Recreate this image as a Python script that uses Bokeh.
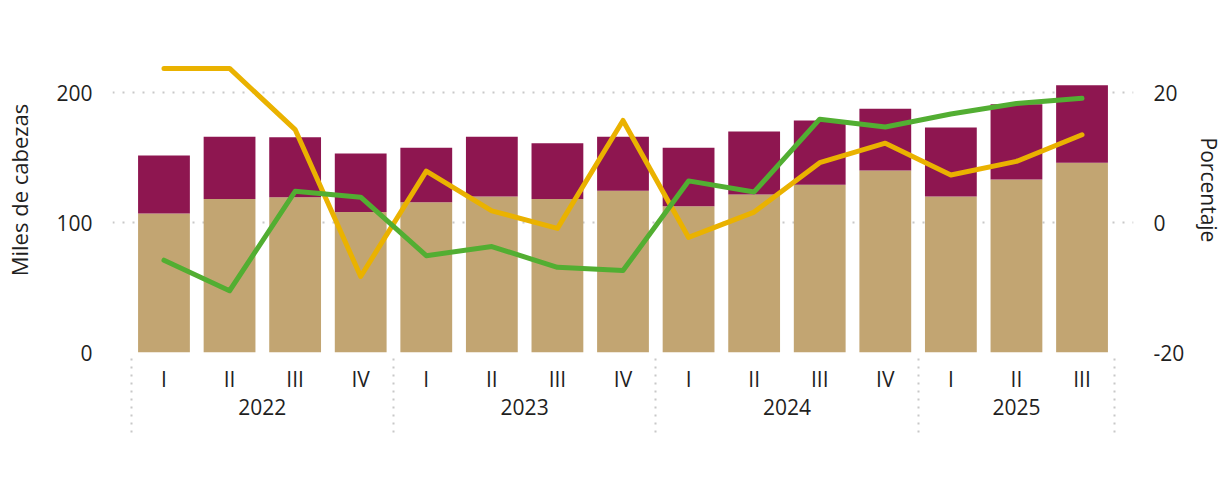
from bokeh.plotting import figure
from bokeh.models import (Range1d, LinearAxis, Legend, LegendItem,
                          ColumnDataSource, FixedTicker)
from bokeh.embed import file_html
from bokeh.resources import INLINE

years = ["2022", "2023", "2024", "2025"]
quarters = ["I", "II", "III", "IV", "I", "II", "III", "IV",
            "I", "II", "III", "IV", "I", "II", "III"]
quarters_per_year = [4, 4, 4, 3]
porcino = [107, 118, 119.5, 108, 115.5, 120, 118, 124.5,
           112.5, 121.5, 129, 140, 120, 133, 146]
vacuno = [44.5, 48, 46, 45, 42, 46, 43, 41.5,
          45, 48.5, 49.5, 47.5, 53, 58, 59.5]
var_porcino = [23.7, 23.7, 14.3, -8.3, 7.9, 1.8, -0.9, 15.7,
               -2.3, 1.6, 9.2, 12.2, 7.3, 9.4, 13.5]
var_vacuno = [-5.8, -10.5, 4.8, 3.9, -5.1, -3.7, -6.9, -7.4,
              6.4, 4.7, 15.9, 14.7, 16.7, 18.3, 19.1]
left_ticks = [0, 100, 200]
right_ticks = [-20, 0, 20]

FONT = "Open Sans"
TXT = "#1f1f1f"
TAN = "#C2A572"
MAROON = "#8E1650"
YELLOW = "#EAB200"
GREEN = "#52AE32"
GRID = "#c8c8c8"

n = len(quarters)
xs = list(range(n))
src = ColumnDataSource(dict(x=xs, porcino=porcino, vacuno=vacuno,
                            vp=var_porcino, vv=var_vacuno))

bounds = [-0.5]
centres = []
for k in quarters_per_year:
    start = bounds[-1]
    bounds.append(start + k)
    centres.append(start + k / 2)

p = figure(x_range=Range1d(-0.785, n - 1 + 0.785), y_range=Range1d(0, 250),
           frame_width=1021, frame_height=325,
           output_backend="svg", toolbar_location=None,
           min_border_left=112, min_border_right=90, min_border_top=27,
           min_border_bottom=139, x_axis_location=None)
p.extra_y_ranges = {"pct": Range1d(-20, 30)}
p.outline_line_color = None

bars = p.vbar_stack(["porcino", "vacuno"], x="x", width=0.79, source=src,
                    color=[TAN, MAROON], line_color=None)
lp = p.line("x", "vp", source=src, y_range_name="pct", line_color=YELLOW,
            line_width=5, line_cap="round", line_join="round")
lv = p.line("x", "vv", source=src, y_range_name="pct", line_color=GREEN,
            line_width=5, line_cap="round", line_join="round")

dp = p.scatter(x=[0], y=[-500], marker="circle", size=16, color=TAN)
dv = p.scatter(x=[0], y=[-500], marker="circle", size=16, color=MAROON)

p.yaxis.ticker = FixedTicker(ticks=left_ticks)
p.ygrid.ticker = FixedTicker(ticks=left_ticks)
p.ygrid.grid_line_color = GRID
p.ygrid.grid_line_dash = "2 8"
p.ygrid.grid_line_width = 2
p.xgrid.grid_line_color = None

ax_r = LinearAxis(y_range_name="pct", ticker=FixedTicker(ticks=right_ticks),
                  axis_label="Porcentaje",
                  major_label_overrides={t: str(t) for t in right_ticks})
p.add_layout(ax_r, "right")

ax_l = p.yaxis[0]
ax_l.axis_label = "Miles de cabezas"
for ax in [ax_l, ax_r]:
    ax.axis_line_color = None
    ax.major_tick_line_color = None
    ax.minor_tick_line_color = None
    ax.major_tick_out = 0
    ax.minor_tick_out = 0
    ax.major_label_text_font = FONT
    ax.major_label_text_font_size = "21px"
    ax.major_label_text_color = TXT
    ax.axis_label_text_font = FONT
    ax.axis_label_text_font_style = "normal"
    ax.axis_label_text_color = TXT
    ax.major_label_standoff = 20
ax_l.axis_label_text_font_size = "22px"
ax_l.axis_label_standoff = 19
ax_r.axis_label_text_font_size = "21px"
ax_r.axis_label_standoff = 8

# quarter labels + group separators (minor ticks)
qa = LinearAxis(ticker=FixedTicker(ticks=xs, minor_ticks=bounds),
                major_label_overrides={i: q for i, q in enumerate(quarters)})
qa.axis_line_color = None
qa.major_tick_line_color = None
qa.major_tick_out = 0
qa.major_tick_in = 0
qa.minor_tick_out = 80
qa.minor_tick_in = 0
qa.minor_tick_line_color = GRID
qa.minor_tick_line_dash = "2 6"
qa.minor_tick_line_width = 2
qa.major_label_standoff = -68
qa.major_label_text_font = FONT
qa.major_label_text_font_size = "21px"
qa.major_label_text_color = TXT
p.add_layout(qa, "below")

ya = LinearAxis(ticker=FixedTicker(ticks=centres),
                major_label_overrides={c: y for c, y in zip(centres, years)})
ya.axis_line_color = None
ya.major_tick_line_color = None
ya.minor_tick_line_color = None
ya.major_tick_out = 0
ya.major_tick_in = 0
ya.minor_tick_out = 0
ya.major_label_standoff = 3
ya.major_label_text_font = FONT
ya.major_label_text_font_size = "21px"
ya.major_label_text_color = TXT
p.add_layout(ya, "below")

legend = Legend(items=[
    LegendItem(label="Porcino", renderers=[dp]),
    LegendItem(label="Vacuno", renderers=[dv]),
    LegendItem(label="Variación porcino (eje der)", renderers=[lp]),
    LegendItem(label="Variación vacuno (eje der)", renderers=[lv]),
], orientation="horizontal", location=(30, -138),
    label_text_font=FONT, label_text_font_size="24px", label_text_color=TXT,
    glyph_width=44, glyph_height=34, label_standoff=6, spacing=0,
    padding=0, margin=0,
    border_line_color=None, background_fill_alpha=0)
p.add_layout(legend)

open("out.html", "w").write(file_html(p, INLINE))
